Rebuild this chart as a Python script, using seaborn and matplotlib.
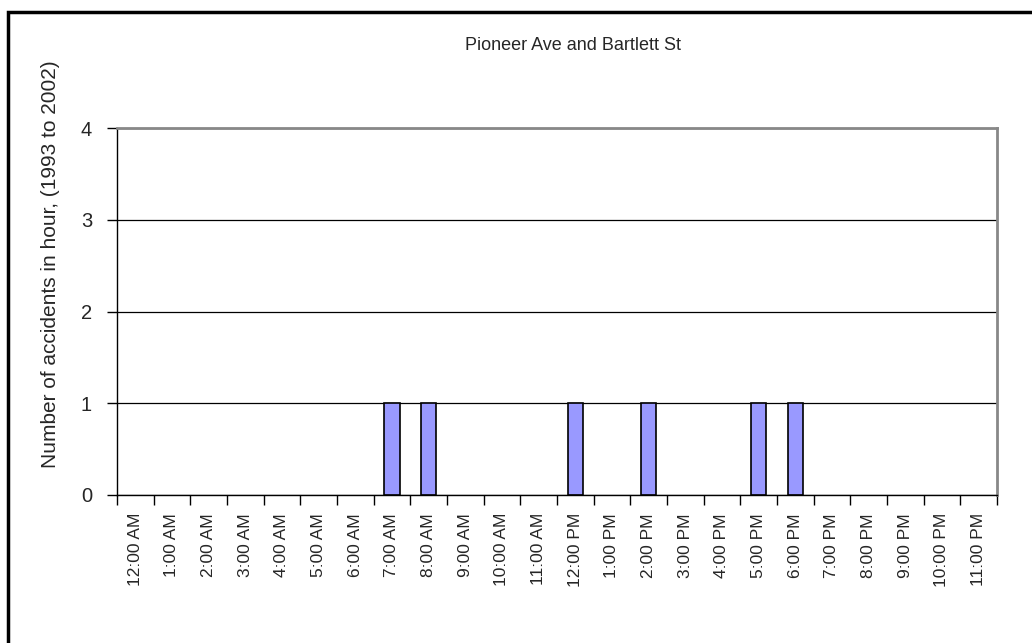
import numpy as np
import pandas as pd
import matplotlib
matplotlib.use("Agg")
import matplotlib.pyplot as plt
import matplotlib.patches as patches
from matplotlib.ticker import MultipleLocator, FixedLocator
import seaborn as sns

sns.set_style("white")
plt.rcParams['font.family'] = ['Liberation Sans', 'DejaVu Sans']

# hourly categories and accident counts (1993 to 2002)
hours = ['12:00 AM', '1:00 AM', '2:00 AM', '3:00 AM', '4:00 AM', '5:00 AM',
         '6:00 AM', '7:00 AM', '8:00 AM', '9:00 AM', '10:00 AM', '11:00 AM',
         '12:00 PM', '1:00 PM', '2:00 PM', '3:00 PM', '4:00 PM', '5:00 PM',
         '6:00 PM', '7:00 PM', '8:00 PM', '9:00 PM', '10:00 PM', '11:00 PM']
accidents = [0, 0, 0, 0, 0, 0, 0, 1, 1, 0, 0, 0,
             1, 0, 1, 0, 0, 1, 1, 0, 0, 0, 0, 0]

df = pd.DataFrame({'Hour': hours, 'Accidents': accidents})

fig = plt.figure(figsize=(10.32, 6.43), dpi=100)
ax = fig.add_axes([117 / 1032, 1 - 495 / 643, 880 / 1032, 367 / 643])

sns.barplot(data=df, x='Hour', y='Accidents', order=hours, ax=ax,
            color='#9999FF', edgecolor='black', linewidth=1.2,
            width=0.41, saturation=1)

# empty hours should not leave an outline on the baseline
for p in ax.patches:
    if p.get_height() == 0:
        p.set_edgecolor('none')

ax.set_xlim(-0.5, len(hours) - 0.5)
ax.set_ylim(0, 4)
ax.yaxis.set_major_locator(MultipleLocator(1))
ax.yaxis.grid(True, color='black', linewidth=0.9)
ax.set_axisbelow(True)

# category labels centred, tick marks on category boundaries
ax.set_xticks(range(len(hours)))
ax.set_xticklabels(hours, rotation=90, fontsize=12.5)
ax.xaxis.set_minor_locator(FixedLocator(np.arange(-0.5, len(hours), 1)))
ax.tick_params(axis='x', which='major', length=0, pad=13)
ax.tick_params(axis='x', which='minor', length=7, width=1, color='black',
               direction='out', bottom=True)
ax.tick_params(axis='y', length=7.5, width=1, color='black', direction='out',
               left=True, labelsize=14.5, pad=10.5)

for side in ['left', 'bottom']:
    ax.spines[side].set_color('black')
    ax.spines[side].set_linewidth(1)
for side in ['top', 'right']:
    ax.spines[side].set_color('#888888')
    ax.spines[side].set_linewidth(2)

ax.set_xlabel('')
ax.set_ylabel('')
fig.text(51 / 1032, 1 - 264 / 643, 'Number of accidents in hour, (1993 to 2002)',
         rotation=90, ha='center', va='center', fontsize=15)
fig.text(573 / 1032, 1 - 46 / 643, 'Pioneer Ave and Bartlett St',
         ha='center', va='center', fontsize=13)

# outer chart border
fig.patches.append(patches.Rectangle((8 / 1032, -0.05), 1.1, 1 - 12 / 643 + 0.05,
                                     transform=fig.transFigure, fill=False,
                                     edgecolor='black', linewidth=2.5))

fig.savefig('out.png', dpi=100)
